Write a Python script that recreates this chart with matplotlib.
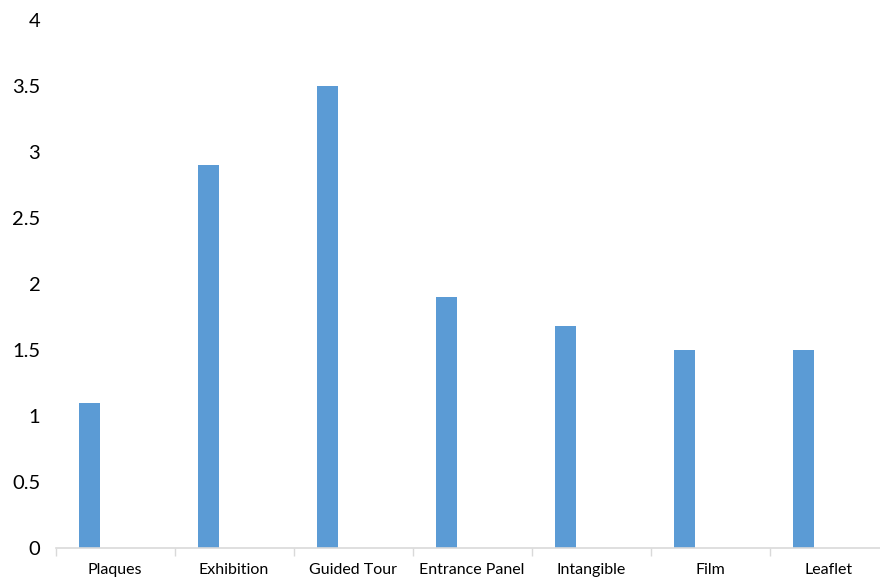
import matplotlib.pyplot as plt
import numpy as np

categories = ['Plaques', 'Exhibition', 'Guided Tour', 'Entrance Panel',
              'Intangible', 'Film', 'Leaflet']
scores = [1.1, 2.9, 3.5, 1.9, 1.68, 1.5, 1.5]
y_ticks = [0, 0.5, 1, 1.5, 2, 2.5, 3, 3.5, 4]
y_labels = ['0', '0.5', '1', '1.5', '2', '2.5', '3', '3.5', '4']

plt.rcParams['font.family'] = ['Lato', 'DejaVu Sans']

fig = plt.figure(figsize=(8.8, 5.81), dpi=100)
ax = fig.add_axes([0.0631, 0.0568, 0.9466, 0.9088])

x = np.arange(len(categories))
ax.bar(x - 0.217, scores, width=0.174, color='#5B9BD5')

ax.set_xlim(-0.5, len(categories) - 0.5)
ax.set_ylim(0, 4)

ax.set_yticks(y_ticks)
ax.set_yticklabels(y_labels, fontsize=14.5)
ax.tick_params(axis='y', length=0, pad=11)

# category labels sit between the boundary ticks
ax.set_xticks(x)
ax.set_xticklabels(categories, fontsize=11.5)
ax.tick_params(axis='x', length=0, pad=11)
ax.set_xticks(np.arange(len(categories) + 1) - 0.5, minor=True)
ax.tick_params(axis='x', which='minor', length=6, color='#D9D9D9', width=1)

for side in ['top', 'right', 'left']:
    ax.spines[side].set_visible(False)
ax.spines['bottom'].set_color('#D9D9D9')
ax.spines['bottom'].set_linewidth(1.2)

fig.savefig('out.png', dpi=100)
